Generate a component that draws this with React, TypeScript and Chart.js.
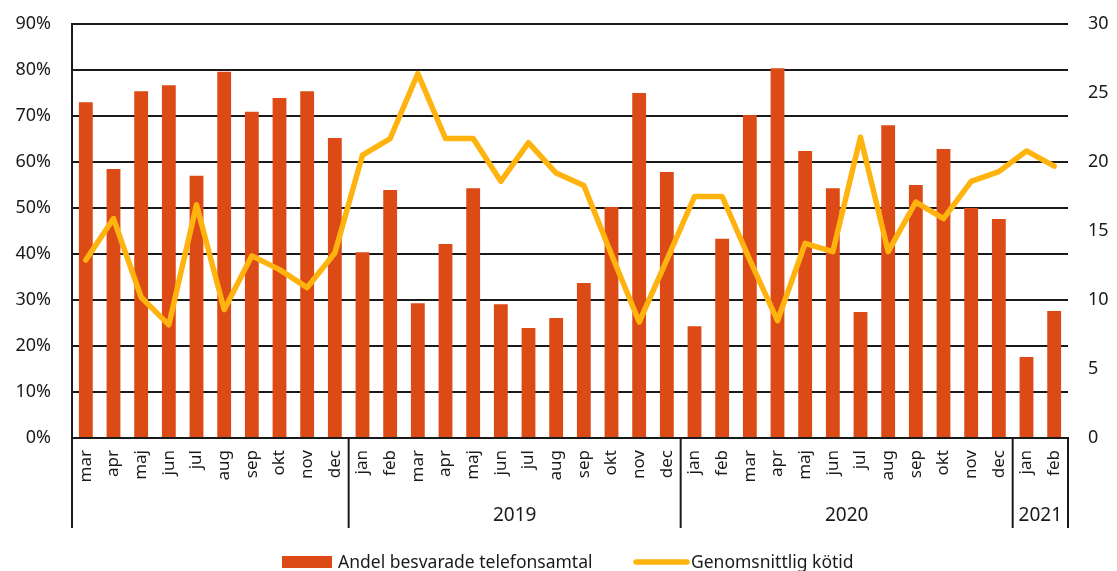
import React, { useEffect, useRef } from "react";
import { Chart, registerables } from "chart.js";

Chart.register(...registerables);

const categories = [
  "mar", "apr", "maj", "jun", "jul", "aug", "sep", "okt", "nov", "dec",
  "jan", "feb", "mar", "apr", "maj", "jun", "jul", "aug", "sep", "okt", "nov", "dec",
  "jan", "feb", "mar", "apr", "maj", "jun", "jul", "aug", "sep", "okt", "nov", "dec",
  "jan", "feb",
];

const yearLabels = ["", "2019", "2020", "2021"];
const yearSpans = [10, 12, 12, 2];

// Andel besvarade telefonsamtal (%)
const answeredShare = [
  73.0, 58.5, 75.4, 76.7, 57.0, 79.6, 70.9, 73.9, 75.4, 65.2,
  40.4, 53.9, 29.3, 42.2, 54.3, 29.1, 23.9, 26.1, 33.7, 50.2, 75.0, 57.8,
  24.3, 43.3, 70.2, 80.4, 62.4, 54.3, 27.4, 68.0, 55.0, 62.8, 50.0, 47.6,
  17.6, 27.6,
];

// Genomsnittlig kötid (minuter)
const avgQueueTime = [
  12.9, 15.9, 10.2, 8.2, 16.9, 9.3, 13.2, 12.2, 10.9, 13.4,
  20.5, 21.7, 26.4, 21.7, 21.7, 18.6, 21.4, 19.2, 18.3, 13.3, 8.4, 12.9,
  17.5, 17.5, 12.9, 8.5, 14.1, 13.5, 21.8, 13.5, 17.1, 15.9, 18.6, 19.3,
  20.8, 19.7,
];

const leftTicks = [0, 10, 20, 30, 40, 50, 60, 70, 80, 90];
const rightTicks = [0, 5, 10, 15, 20, 25, 30];

const BAR_COLOR = "#DC4A15";
const LINE_COLOR = "#FFB30F";
const INK = "#1a1a1a";
const FONT = "'Noto Sans', sans-serif";

const yearPlugin = {
  id: "yearGroups",
  afterDraw(chart: any) {
    const { ctx, chartArea } = chart;
    const x = chart.scales.x;
    const half = (x.getPixelForValue(1) - x.getPixelForValue(0)) / 2;
    const yTop = chartArea.bottom;
    const yBot = 528;
    ctx.save();
    ctx.strokeStyle = INK;
    ctx.lineWidth = 2;
    ctx.fillStyle = INK;
    ctx.font = `19px ${FONT}`;
    ctx.textAlign = "center";
    ctx.textBaseline = "middle";
    let idx = 0;
    const drawV = (px: number) => {
      ctx.beginPath();
      ctx.moveTo(px, yTop);
      ctx.lineTo(px, yBot);
      ctx.stroke();
    };
    for (let g = 0; g < yearSpans.length; g++) {
      const xs = x.getPixelForValue(idx) - half;
      const xe = x.getPixelForValue(idx + yearSpans[g] - 1) + half;
      drawV(xs);
      if (g === yearSpans.length - 1) drawV(xe);
      if (yearLabels[g]) ctx.fillText(yearLabels[g], (xs + xe) / 2, 516);
      idx += yearSpans[g];
    }

    // legend
    const ds = chart.data.datasets;
    ctx.font = `17.5px ${FONT}`;
    ctx.textAlign = "left";
    ctx.textBaseline = "alphabetic";
    ctx.fillStyle = ds[0].backgroundColor;
    ctx.fillRect(282, 556, 50, 12);
    ctx.fillStyle = INK;
    ctx.fillText(ds[0].label, 338, 568);
    ctx.strokeStyle = ds[1].borderColor;
    ctx.lineWidth = 5.5;
    ctx.lineCap = "round";
    ctx.beginPath();
    ctx.moveTo(636, 562);
    ctx.lineTo(687, 562);
    ctx.stroke();
    ctx.fillText(ds[1].label, 691, 568);
    ctx.restore();
  },
};

export default function App() {
  const ref = useRef<HTMLCanvasElement | null>(null);

  useEffect(() => {
    document.body.style.margin = "0";
    const canvas = ref.current;
    if (!canvas) return;
    const chart = new Chart(canvas, {
      type: "bar",
      data: {
        labels: categories,
        datasets: [
          {
            type: "bar",
            label: "Andel besvarade telefonsamtal",
            data: answeredShare,
            backgroundColor: BAR_COLOR,
            yAxisID: "y",
            barPercentage: 0.5,
            categoryPercentage: 1,
            order: 2,
          },
          {
            type: "line",
            label: "Genomsnittlig kötid",
            data: avgQueueTime,
            borderColor: LINE_COLOR,
            backgroundColor: LINE_COLOR,
            borderWidth: 5.5,
            pointRadius: 0,
            tension: 0,
            borderJoinStyle: "round",
            borderCapStyle: "round",
            yAxisID: "y1",
            order: 1,
          },
        ],
      } as any,
      options: {
        responsive: false,
        animation: false,
        layout: { padding: { top: 24, left: 0, right: 0, bottom: 0 } },
        plugins: { legend: { display: false }, tooltip: { enabled: false } },
        scales: {
          x: {
            grid: { display: false },
            border: { display: true, color: INK, width: 2 },
            ticks: {
              autoSkip: false,
              maxRotation: 90,
              minRotation: 90,
              padding: 4,
              color: INK,
              font: { family: FONT, size: 17 },
            },
            afterFit(scale: any) {
              scale.height = 133;
              scale.paddingLeft = 0;
              scale.paddingRight = 0;
            },
          },
          y: {
            position: "left",
            min: 0,
            max: 90,
            afterBuildTicks(scale: any) {
              scale.ticks = leftTicks.map((v) => ({ value: v }));
            },
            grid: { color: INK, lineWidth: 2, drawTicks: false },
            border: { display: true, color: INK, width: 2 },
            ticks: {
              padding: 21,
              color: INK,
              font: { family: FONT, size: 18 },
              callback: (v: any) => `${v}%`,
            },
            afterFit(scale: any) {
              scale.width = 72;
              scale.paddingTop = 0;
              scale.paddingBottom = 0;
            },
          },
          y1: {
            position: "right",
            min: 0,
            max: 30,
            afterBuildTicks(scale: any) {
              scale.ticks = rightTicks.map((v) => ({ value: v }));
            },
            grid: { display: false, drawTicks: false },
            border: { display: false },
            ticks: {
              padding: 20,
              color: INK,
              font: { family: FONT, size: 18 },
            },
            afterFit(scale: any) {
              scale.width = 49;
              scale.paddingTop = 0;
              scale.paddingBottom = 0;
            },
          },
        },
      } as any,
      plugins: [yearPlugin],
    });
    return () => chart.destroy();
  }, []);

  return (
    <div style={{ position: "absolute", left: 0, top: 0, width: 1117, height: 571 }}>
      <canvas ref={ref} width={1117} height={571} />
    </div>
  );
}
